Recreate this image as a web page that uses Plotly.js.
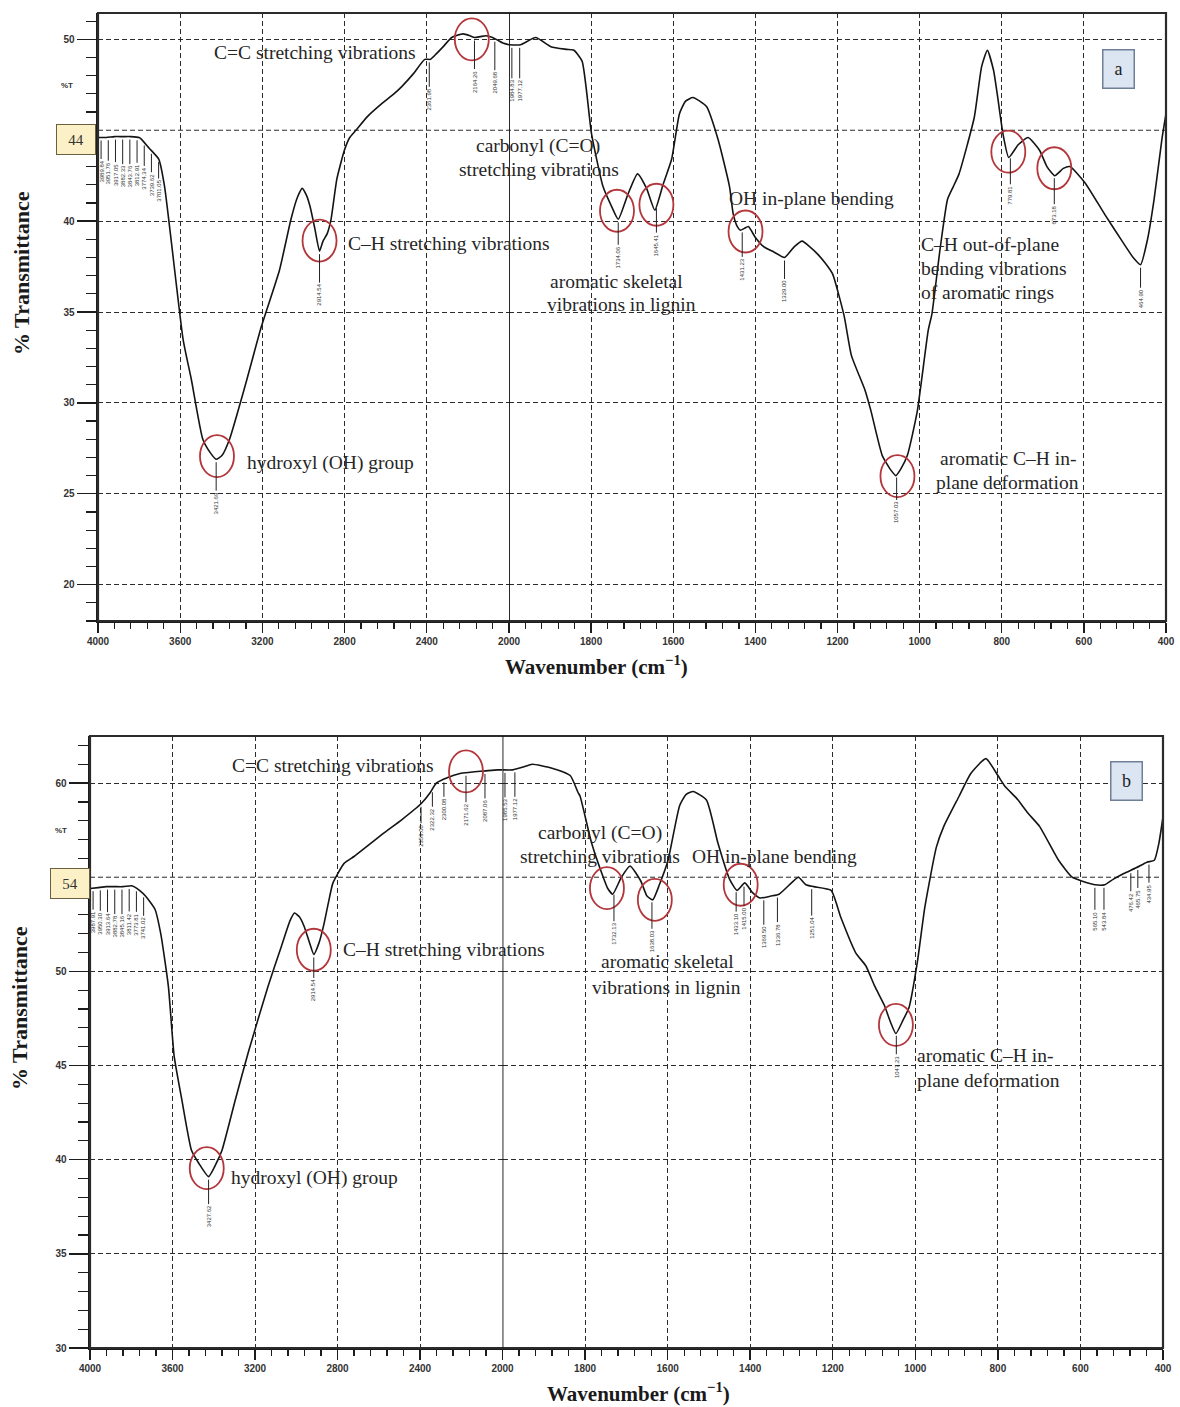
<!DOCTYPE html>
<html><head><meta charset="utf-8">
<script src="https://cdn.plot.ly/plotly-3.0.1.min.js"></script>
<style>html,body{margin:0;padding:0;background:#fff}#chart{width:1180px;height:1407px}</style>
</head><body><div id="chart"></div>
<script>
// ---------- DATA ----------
// Panel a, 4000-2000 cm-1
const wnA_hi = [4000,3960,3920,3880,3840,3800,3788,3750,3704,3676,3586,3546,3490,3453,3425,3397,3360,3285,3205,3117,3061,3030,3006,2985,2968,2945,2922,2905,2885,2866,2838,2801,2775,2745,2689,2615,2560,2522,2466,2410,2382,2354,2320,2279,2224,2190,2168,2140,2112,2080,2056,2030,2000];
const tA_hi  = [44.6,44.6,44.65,44.65,44.65,44.6,44.5,44.0,43.4,41.9,33.5,31.3,28.0,27.25,26.9,27.1,28.0,30.9,34.2,37.3,40.1,41.3,41.8,41.4,40.8,39.6,38.35,38.9,39.3,40.1,42.3,43.9,44.6,45.0,45.75,46.5,47.0,47.4,48.1,48.9,48.9,49.2,49.6,50.1,50.3,50.2,50.1,50.15,50.2,50.1,49.96,49.8,49.7];
// Panel a, 2000-400 cm-1
const wnA_lo = [2000,1972,1935,1898,1860,1842,1822,1799,1771,1750,1734,1710,1687,1665,1645,1625,1604,1585,1570,1552,1519,1491,1463,1454,1444,1436,1427,1417,1400,1380,1355,1329,1305,1286,1268,1249,1230,1212,1184,1166,1133,1119,1091,1070,1058,1045,1030,1006,979,970,950,932,918,904,867,849,835,820,811,797,783,760,736,708,690,671,650,634,597,550,504,480,462,445,429,410,400];
const tA_lo  = [49.7,49.7,50.1,49.6,49.45,49.4,48.8,44.8,41.9,40.8,40.1,41.5,42.6,41.8,40.6,42.0,43.4,45.9,46.6,46.8,46.3,44.5,41.9,40.4,39.7,39.5,39.6,39.7,39.1,38.6,38.3,38.0,38.6,38.9,38.6,38.2,37.7,37.1,34.8,32.6,30.7,29.6,27.1,26.3,26.0,26.4,27.1,29.5,34.0,34.9,38.5,41.2,41.9,42.6,45.7,48.5,49.4,48.3,47.0,44.8,43.5,44.2,44.6,43.9,43.0,42.5,42.9,43.0,42.1,40.4,38.8,38.0,37.6,39.0,41.2,44.5,45.9];
// Panel b, 4000-2000 cm-1
const wnB_hi = [4000,3960,3920,3880,3840,3800,3787,3760,3731,3685,3657,3620,3592,3555,3508,3472,3425,3388,3360,3295,3230,3137,3073,3030,3008,2985,2962,2935,2915,2890,2868,2845,2822,2767,2720,2673,2581,2489,2395,2350,2321,2265,2210,2177,2135,2080,2024,2000];
const tB_hi  = [54.4,54.45,54.5,54.5,54.5,54.55,54.5,54.3,54.0,53.3,52.0,49.2,45.5,43.2,40.5,39.8,39.1,39.8,40.5,43.2,45.8,49.2,51.3,52.7,53.1,52.9,52.4,51.5,50.9,51.5,52.4,53.6,54.7,55.75,56.1,56.5,57.3,58.05,58.9,59.5,60.0,60.3,60.5,60.55,60.6,60.65,60.7,60.7];
// Panel b, 2000-400 cm-1
const wnB_lo = [2000,1975,1950,1928,1882,1836,1817,1812,1784,1756,1745,1733,1712,1691,1665,1650,1636,1620,1599,1571,1555,1538,1506,1478,1450,1432,1413,1395,1376,1350,1330,1300,1283,1265,1246,1204,1181,1144,1120,1098,1075,1060,1047,1030,1015,995,977,949,931,894,866,829,800,782,755,727,699,653,620,597,565,541,520,495,465,439,421,410,400];
const tB_lo  = [60.7,60.7,60.85,61.0,60.8,60.4,59.5,59.3,56.8,55.0,54.4,54.1,55.0,55.6,54.8,54.0,53.8,54.6,55.9,58.8,59.4,59.55,59.1,56.8,54.9,54.3,54.7,54.2,53.9,54.0,54.1,54.7,55.0,54.6,54.5,54.3,52.9,50.97,50.3,49.2,48.2,47.3,46.7,47.4,48.1,50.5,53.4,56.6,57.7,59.3,60.5,61.3,60.4,59.8,59.2,58.4,57.7,55.9,55.0,54.8,54.6,54.6,54.9,55.2,55.5,55.8,55.9,56.8,58.2];

// Peak labels (wavenumber, text, label offset px)
const pkA_wn  = [3985,3950,3915,3880,3845,3810,3775,3740,3705,3425,2922,2388,2168,2069,1993,1974,1734,1641,1432,1329,1056,779,672,462];
const pkA_txt = ['3989.84','3951.76','3917.05','3882.33','3843.76','3812.91','3774.34','3739.62','3701.05','3421.69','2914.54','2361.98','2164.26','2049.68','1984.83','1977.12','1734.06','1645.41','1431.23','1329.00','1057.03','779.81','673.18','464.90'];
const pkA_off = [34,36,38,40,40,38,36,34,32,44,44,40,44,44,46,46,38,40,40,34,38,40,40,34];
const pkB_wn  = [3985,3950,3915,3880,3845,3810,3775,3740,3425,2915,2395,2340,2284,2177,2085,1994,1970,1730,1638,1434,1415,1367,1334,1251,1046,565,543,478,461,434];
const pkB_txt = ['3987.91','3950.30','3913.64','3882.78','3845.16','3811.42','3773.81','3741.02','3427.62','2914.54','2359.00','2322.32','2300.08','2171.62','2087.06','1985.53','1977.12','1732.13','1638.03','1433.10','1415.00','1369.50','1336.78','1251.04','1047.23','565.10','543.84','476.42','465.75','434.95'];
const pkB_off = [34,36,38,40,40,38,36,34,40,36,32,30,30,42,40,40,40,42,42,35,35,40,40,42,34,36,36,32,32,32];

// Marked bands (red circles): centre wavenumber and %T
const cirA_wn = [2181,2922,3421,1737,1641,1424,784,672,1054];
const cirA_t  = [50.0,38.93,27.07,40.57,40.9,39.43,43.82,42.91,25.97];
const cirB_wn = [2177,2915,3434,1747,1631,1423,1047];
const cirB_t  = [60.62,51.15,39.55,54.42,53.8,54.6,47.16];

// Band assignment texts
const txtA = [
 ['C=C stretching vibrations',212,53],['C–H stretching vibrations',346,243],['hydroxyl (OH) group',245,463],
 ['carbonyl (C=O)',474,146],['stretching vibrations',457,170],
 ['aromatic skeletal',548,282],['vibrations in lignin',545,305],
 ['OH in-plane bending',727,199],
 ['C–H out-of-plane',919,245],['bending vibrations',919,268],['of aromatic rings',919,293],
 ['aromatic C–H in-',938,458],['plane deformation',934,482]
];
const txtB = [
 ['C=C stretching vibrations',230,765],['C–H stretching vibrations',341,949],['hydroxyl (OH) group',229,1178],
 ['carbonyl (C=O)',536,833],['stretching vibrations',518,857],['OH in-plane bending',690,857],
 ['aromatic skeletal',599,962],['vibrations in lignin',590,987],
 ['aromatic C–H in-',915,1055],['plane deformation',915,1080]
];

// ---------- LAYOUT HELPERS ----------
const W=1180,H=1407;
const fx=v=>v/W, fy=v=>1-v/H;
const INK='#1c1c1c';
const serif='"Liberation Serif","Times New Roman",serif';
const sans='Arial, "Liberation Sans", sans-serif';

function interp(xs,ys,w){
  for(let i=0;i<xs.length-1;i++){
    const a=xs[i],b=xs[i+1];
    if((w<=a&&w>=b)){const t=(a-w)/(a-b);return ys[i]+t*(ys[i+1]-ys[i]);}
  }
  return ys[ys.length-1];
}

function curve(x,y,xa,ya){
  return {x:x,y:y,xaxis:xa,yaxis:ya,type:'scatter',mode:'lines',
    line:{color:'#141414',width:1.6,shape:'spline',smoothing:0.5},hoverinfo:'skip'};
}
const data=[
  curve(wnA_hi,tA_hi,'x','y'), curve(wnA_lo,tA_lo,'x2','y'),
  curve(wnB_hi,tB_hi,'x3','y2'), curve(wnB_lo,tB_lo,'x4','y2')
];

function minorVals(a,b,step){const v=[];for(let t=a;t>=b;t-=step)v.push(t);return v;}
const tickFont={family:sans,size:10,color:'#333',weight:'bold'};
const GRID='5px,3px';
function xax(dom,rng,tv,mstep,anchor){
  return {domain:dom,range:rng,anchor:anchor,tickmode:'array',tickvals:tv,ticktext:tv.map(String),
    ticks:'outside',ticklen:10,tickwidth:1.4,tickcolor:INK,tickfont:tickFont,
    showgrid:true,gridcolor:'#2a2a2a',gridwidth:1,griddash:GRID,
    showline:true,linecolor:INK,linewidth:2,zeroline:false,fixedrange:true,
    minor:{tickmode:'array',tickvals:minorVals(rng[0],rng[1],mstep),ticks:'outside',ticklen:6,tickwidth:1.2,tickcolor:INK,showgrid:false}};
}
function yax(dom,rng,tv,anchor){
  return {domain:dom,range:rng,anchor:anchor,tickmode:'array',tickvals:tv,ticktext:tv.map(String),
    ticks:'outside',ticklen:19,tickwidth:1.4,tickcolor:INK,tickfont:tickFont,
    showgrid:true,gridcolor:'#2a2a2a',gridwidth:1,griddash:GRID,
    showline:true,linecolor:INK,linewidth:2.5,zeroline:false,fixedrange:true,
    minor:{dtick:1,ticks:'outside',ticklen:10,tickwidth:1.2,tickcolor:INK,showgrid:false}};
}

const layout={
  width:W,height:H,margin:{l:0,r:0,t:0,b:0},paper_bgcolor:'#fff',plot_bgcolor:'#fff',showlegend:false,
  xaxis: xax([fx(98),fx(509)],[4000,2000],[4000,3600,3200,2800,2400],80,'y'),
  xaxis2:xax([fx(509),fx(1166)],[2000,400],[2000,1800,1600,1400,1200,1000,800,600,400],40,'y'),
  yaxis: yax([fy(621),fy(13)],[18,51.45],[20,25,30,35,40,50],'x'),
  xaxis3:xax([fx(90),fx(502.5)],[4000,2000],[4000,3600,3200,2800,2400],80,'y2'),
  xaxis4:xax([fx(502.5),fx(1163)],[2000,400],[2000,1800,1600,1400,1200,1000,800,600,400],40,'y2'),
  yaxis2:yax([fy(1348),fy(736)],[30,62.5],[30,35,40,45,50,60],'x3'),
  shapes:[],annotations:[]
};

// gridline hidden under the value boxes (45 in a, 55 in b)
layout.shapes.push({type:'line',xref:'paper',yref:'y',x0:fx(98),x1:fx(1166),y0:45,y1:45,layer:'below',line:{color:'#2a2a2a',width:1,dash:GRID}});
layout.shapes.push({type:'line',xref:'paper',yref:'y2',x0:fx(90),x1:fx(1163),y0:55,y1:55,layer:'below',line:{color:'#2a2a2a',width:1,dash:GRID}});
layout.shapes.push({type:'line',xref:'paper',yref:'y',x0:fx(79),x1:fx(98),y0:45,y1:45,line:{color:INK,width:1.4}});
layout.shapes.push({type:'line',xref:'paper',yref:'y2',x0:fx(71),x1:fx(90),y0:55,y1:55,line:{color:INK,width:1.4}});

// frames and 2000 cm-1 divider
[[98,13,1166,621],[90,736,1163,1348]].forEach(r=>{
  layout.shapes.push({type:'rect',xref:'paper',yref:'paper',x0:fx(r[0]),x1:fx(r[2]),y0:fy(r[3]),y1:fy(r[1]),line:{color:'#2b2b2b',width:2.2},layer:'above'});
});
layout.shapes.push({type:'line',xref:'x2',yref:'y domain',x0:2000,x1:2000,y0:0,y1:1,line:{color:'#111',width:1.8}});
layout.shapes.push({type:'line',xref:'x4',yref:'y2 domain',x0:2000,x1:2000,y0:0,y1:1,line:{color:'#111',width:1.8}});

// red circles
function circles(wns,ts,xhi,xlo,ya){
  wns.forEach((w,i)=>{
    layout.shapes.push({type:'circle',xref:w>=2000?xhi:xlo,yref:ya,xsizemode:'pixel',ysizemode:'pixel',
      xanchor:w,yanchor:ts[i],x0:-17,x1:17,y0:-21,y1:21,line:{color:'#b3363b',width:1.8},fillcolor:'rgba(0,0,0,0)'});
  });
}
circles(cirA_wn,cirA_t,'x','x2','y');
circles(cirB_wn,cirB_t,'x3','x4','y2');

// peak labels
function peaks(wns,txt,off,xhi,xlo,ya,whi,thi,wlo,tlo){
  wns.forEach((w,i)=>{
    const v = w>=2000?interp(whi,thi,w):interp(wlo,tlo,w);
    layout.annotations.push({x:w,y:v,xref:w>=2000?xhi:xlo,yref:ya,text:txt[i],textangle:-90,
      font:{family:sans,size:6,color:'#333'},
      showarrow:true,arrowhead:0,arrowwidth:1,arrowcolor:'#222',ax:0,ay:off[i],standoff:3});
  });
}
peaks(pkA_wn,pkA_txt,pkA_off,'x','x2','y',wnA_hi,tA_hi,wnA_lo,tA_lo);
peaks(pkB_wn,pkB_txt,pkB_off,'x3','x4','y2',wnB_hi,tB_hi,wnB_lo,tB_lo);

// band texts
function texts(arr){
  arr.forEach(t=>layout.annotations.push({xref:'paper',yref:'paper',x:fx(t[1]),y:fy(t[2]),xanchor:'left',yanchor:'middle',
    text:t[0],showarrow:false,font:{family:serif,size:19.5,color:'#262626'}}));
}
texts(txtA); texts(txtB);

// axis titles
function title(txt,x,y,ang,sz){
  layout.annotations.push({xref:'paper',yref:'paper',x:fx(x),y:fy(y),xanchor:'center',yanchor:'middle',text:txt,textangle:ang,
    showarrow:false,font:{family:serif,size:sz,color:'#1a1a1a',weight:'bold'}});
}
title('Wavenumber (cm<sup>−1</sup>)',596,666,0,21);
title('Wavenumber (cm<sup>−1</sup>)',638,1392,0,21);
title('% Transmittance',21,273,-90,22);
title('% Transmittance',20,1008,-90,22);

// %T marks and boxes
[[67,85],[61,830]].forEach(p=>layout.annotations.push({xref:'paper',yref:'paper',x:fx(p[0]),y:fy(p[1]),xanchor:'center',yanchor:'middle',text:'%T',showarrow:false,
  font:{family:sans,size:8,color:'#333',weight:'bold'}}));
[['44',76,139],['54',70,883.5]].forEach(b=>layout.annotations.push({xref:'paper',yref:'paper',x:fx(b[1]),y:fy(b[2]),xanchor:'center',yanchor:'middle',text:b[0],showarrow:false,
  width:36,height:27,bgcolor:'#fbf0c6',bordercolor:'#6b6040',borderwidth:1,borderpad:1,font:{family:serif,size:15,color:'#333'}}));
[['a',1118,68.5],['b',1126,780.5]].forEach(b=>layout.annotations.push({xref:'paper',yref:'paper',x:fx(b[1]),y:fy(b[2]),xanchor:'center',yanchor:'middle',text:b[0],showarrow:false,
  width:28,height:35,bgcolor:'#dce5f2',bordercolor:'#6f7f98',borderwidth:1.5,borderpad:1,font:{family:serif,size:18,color:'#222'}}));

Plotly.newPlot('chart',data,layout,{staticPlot:true,displayModeBar:false});
</script></body></html>
